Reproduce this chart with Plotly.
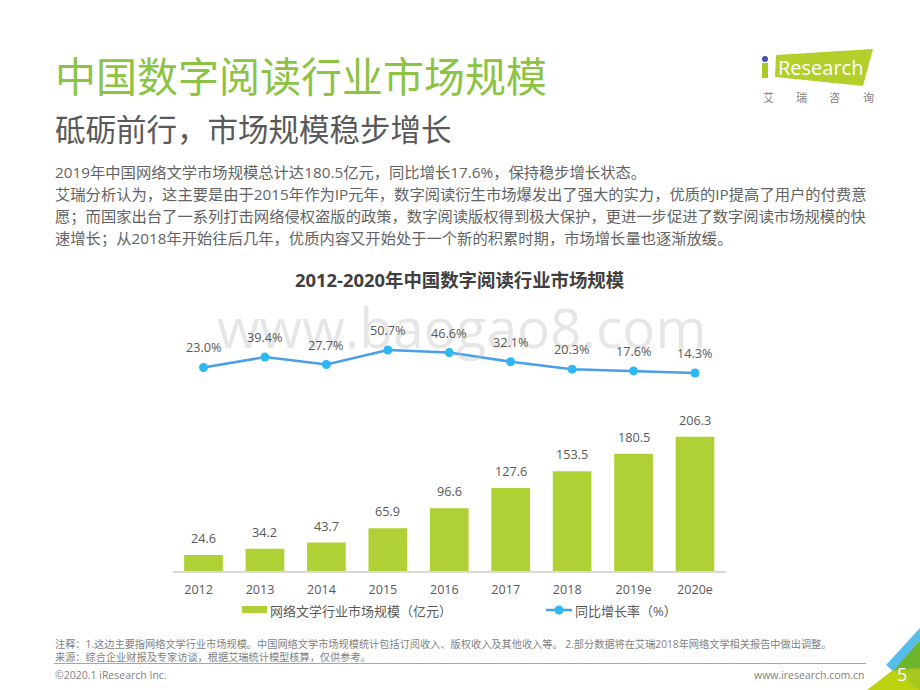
"""
iResearch slide: market size of digital reading in China, 2012-2020.
"""
import plotly.graph_objects as go

# chart data
years = ["2012", "2013", "2014", "2015", "2016", "2017", "2018", "2019e", "2020e"]
market_size = [24.6, 34.2, 43.7, 65.9, 96.6, 127.6, 153.5, 180.5, 206.3]
growth_rate = [23.0, 39.4, 27.7, 50.7, 46.6, 32.1, 20.3, 17.6, 14.3]
# 4 digit labels sit flush with the bar's left edge, so pad them
tick_labels = [y + "\u00a0\u00a0\u00a0" if len(y) == 4 else y for y in years]

title = "中国数字阅读行业市场规模"
subtitle = "砥砺前行\uff0c市场规模稳步增长"
body_lines = [
    "2019年中国网络文学市场规模总计达180.5亿元\uff0c同比增长17.6%\uff0c保持稳步增长状态。",
    "艾瑞分析认为\uff0c这主要是由于2015年作为IP元年\uff0c数字阅读衍生市场爆发出了强大的实力\uff0c优质的IP提高了用户的付费意",
    "愿\uff1b而国家出台了一系列打击网络侵权盗版的政策\uff0c数字阅读版权得到极大保护\uff0c更进一步促进了数字阅读市场规模的快",
    "速增长\uff1b从2018年开始往后几年\uff0c优质内容又开始处于一个新的积累时期\uff0c市场增长量也逐渐放缓。",
]
chart_title = "2012-2020年中国数字阅读行业市场规模"
legend_bar = "网络文学行业市场规模\uff08亿元\uff09"
legend_line = "同比增长率\uff08%\uff09"
notes = [
    "注释\uff1a1.这边主要指网络文学行业市场规模。中国网络文学市场规模统计包括订阅收入、版权收入及其他收入等。 2.部分数据将在艾瑞2018年网络文学相关报告中做出调整。",
    "来源\uff1a综合企业财报及专家访谈\uff0c根据艾瑞统计模型核算\uff0c仅供参考。",
]

W, H = 920, 690
FONT = "Open Sans, Noto Sans CJK SC, sans-serif"
GREY = "#595959"
BAR_GREEN = "#AFD135"
LINE_BLUE = "#4A9FE8"
DOT_BLUE = "#2DB7F5"


def px_x(x):
    return x / W


def px_y(y):
    return 1 - y / H


def label(x, y, text, size, color=GREY, anchor="left", **kw):
    return dict(
        x=px_x(x), y=px_y(y), xref="paper", yref="paper", text=text, showarrow=False,
        xanchor=anchor, yanchor="middle", font=dict(family=FONT, size=size, color=color),
        borderpad=0, **kw,
    )


def poly(points, color):
    path = "M" + "L".join(f"{px_x(x)},{px_y(y)}" for x, y in points) + "Z"
    return dict(type="path", path=path, xref="paper", yref="paper",
                fillcolor=color, line=dict(width=0))


fig = go.Figure()
fig.add_trace(go.Bar(
    x=years, y=market_size, marker=dict(color=BAR_GREEN, line=dict(width=0)),
    width=0.63, name=legend_bar, showlegend=False, hoverinfo="x+y",
))
fig.add_trace(go.Scatter(
    x=years, y=growth_rate, yaxis="y2", mode="lines+markers", name=legend_line,
    line=dict(color=LINE_BLUE, width=2.5), showlegend=False,
    marker=dict(color=DOT_BLUE, size=9, line=dict(width=0)),
))

annotations = [
    label(54, 76, title, 41, "#8CC342"),
    label(54, 129, subtitle, 30.5, "#595959"),
    label(460, 279, f"<b>{chart_title}</b>", 18.4, "#404040", anchor="center"),
    # watermark
    label(461, 327, "www.baogao8.com", 55, "rgba(190,190,190,0.38)", anchor="center"),
    # legend
    label(269, 611, legend_bar, 13),
    label(574, 611, legend_line, 13),
    # footer
    label(54, 675, "©2020.1 iResearch Inc.", 10.5, "#7f7f7f"),
    label(866, 675, "www.iresearch.com.cn", 10.5, "#7f7f7f", anchor="right"),
    label(902, 674, "5", 18, "white", anchor="center"),
    # logo
    label(777, 68, "Research", 20, "white"),
]
for y, line in zip([172, 194, 216, 238], body_lines):
    annotations.append(label(54, y, line, 15.3, "#636363"))
for y, line in zip([644, 657], notes):
    annotations.append(label(54, y, line, 10.2, "#7f7f7f"))
for x, ch in zip([768, 801, 834, 868], "艾瑞咨询"):
    annotations.append(label(x, 97, ch, 11, "#7f7f7f", anchor="center"))

# data labels, numeric-looking categories have to be addressed by index
for i, v in enumerate(market_size):
    annotations.append(dict(x=i, y=v, xref="x", yref="y", text=f"{v:.1f}", showarrow=False,
                            yshift=17, yanchor="middle", font=dict(family=FONT, size=12.7, color=GREY)))
for i, v in enumerate(growth_rate):
    annotations.append(dict(x=i, y=v, xref="x", yref="y2", text=f"{v:.1f}%", showarrow=False,
                            yshift=20, yanchor="middle", font=dict(family=FONT, size=12.7, color=GREY)))

shapes = [
    # logo
    poly([(776, 55), (873, 49), (863, 86), (775, 77)], "#B2CF2B"),
    poly([(762, 63), (768, 63), (768, 78), (762, 78)], "#A9C92B"),
    dict(type="circle", xref="paper", yref="paper", fillcolor="#3F51A8", line=dict(width=0),
         x0=px_x(762), x1=px_x(768), y0=px_y(62), y1=px_y(56)),
    # legend swatches
    dict(type="rect", xref="paper", yref="paper", fillcolor=BAR_GREEN, line=dict(width=0),
         x0=px_x(242), x1=px_x(267), y0=px_y(613), y1=px_y(606)),
    dict(type="line", xref="paper", yref="paper", line=dict(color=LINE_BLUE, width=2.5),
         x0=px_x(546), x1=px_x(572), y0=px_y(610), y1=px_y(610)),
    dict(type="circle", xref="paper", yref="paper", fillcolor=DOT_BLUE, line=dict(width=0),
         x0=px_x(554.5), x1=px_x(563.5), y0=px_y(614.5), y1=px_y(605.5)),
    # footer rule
    dict(type="line", xref="paper", yref="paper", line=dict(color="#a6a6a6", width=1),
         x0=px_x(54), x1=px_x(866), y0=px_y(663.5), y1=px_y(663.5)),
    # corner decoration
    poly([(867, 690), (893, 670), (920, 690)], "#BCD20F"),
    poly([(893, 670), (920, 640), (920, 690)], "#6FB52C"),
    poly([(893, 670), (920, 668), (920, 690)], "#A5C81E"),
    poly([(886, 665), (920, 628), (920, 640), (893, 671)], "#56BDEB"),
]

fig.update_layout(
    width=W, height=H, margin=dict(l=0, r=0, t=0, b=0),
    paper_bgcolor="white", plot_bgcolor="rgba(0,0,0,0)",
    bargap=0.37, showlegend=False, annotations=annotations, shapes=shapes,
    font=dict(family=FONT, color=GREY),
    xaxis=dict(
        domain=[px_x(172.8), px_x(725.7)], type="category", categoryorder="array",
        categoryarray=years, range=[-0.5, len(years) - 0.5],
        tickmode="array", tickvals=list(range(len(years))), ticktext=tick_labels,
        showgrid=False, zeroline=False, showline=True, linecolor="#d9d9d9", linewidth=1.5,
        ticks="", ticklabelstandoff=6, tickfont=dict(family=FONT, size=12.6, color=GREY),
        anchor="y",
    ),
    # bars: 0 at y=571, about 0.65 px per unit
    yaxis=dict(domain=[px_y(571), px_y(400)], range=[0, 263], visible=False, fixedrange=True),
    # line: about 0.632 px per percentage point
    yaxis2=dict(domain=[px_y(380), px_y(340)], range=[3.2, 66.5], visible=False,
                anchor="x", fixedrange=True),
)

fig.write_html("out.html", config={"displayModeBar": False},
               post_script="document.body.style.margin='0';")
